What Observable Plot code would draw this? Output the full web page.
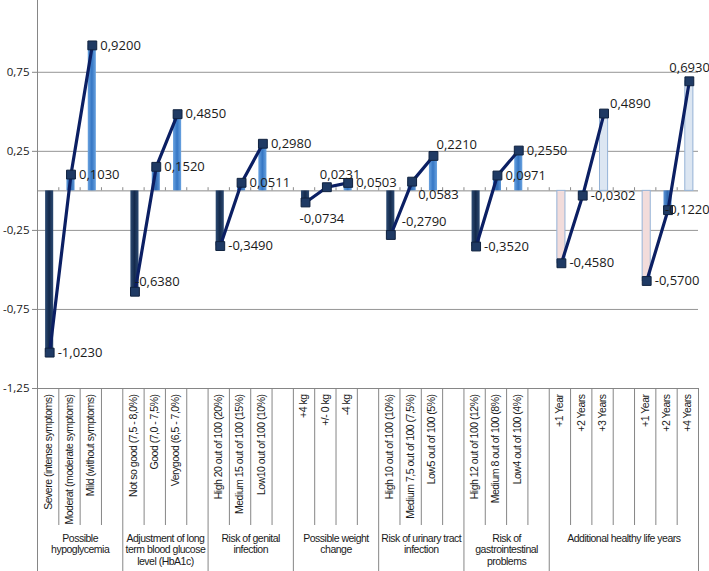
<!DOCTYPE html>
<html><head><meta charset="utf-8">
<script src="https://cdn.jsdelivr.net/npm/d3@7"></script>
<script src="https://cdn.jsdelivr.net/npm/@observablehq/plot@0.6"></script>
<style>
body{margin:0;background:#fff}
#chart svg{display:block}
g[aria-label="x-axis tick label"] text{letter-spacing:-0.5px}
</style>
</head><body><div id="chart"></div>
<script>
// ---- data ----
const groupLabels = [
  "Possible\nhypoglycemia",
  "Adjustment of long\nterm blood glucose\nlevel (HbA1c)",
  "Risk of genital\ninfection",
  "Possible weight\nchange",
  "Risk of urinary tract\ninfection",
  "Risk of\ngastrointestinal\nproblems",
  "Additional healthy life years"
];
// each sub-series of three levels and the group it belongs to
const subGroupOf = [0, 1, 2, 3, 4, 5, 6, 6];
const levelLabels = [
  ["Severe (intense symptoms)", "Moderat (moderate symptoms)", "Mild (without symptoms)"],
  ["Not so good (7,5 - 8,0%)", "Good (7,0 - 7,5%)", "Verygood (6,5 - 7,0%)"],
  ["High 20 out of 100 (20%)", "Medium 15 out of 100 (15%)", "Low10 out of 100 (10%)"],
  ["+4 kg", "+/- 0 kg", "-4 kg"],
  ["High 10 out of 100 (10%)", "Medium 7,5 out of 100 (7,5%)", "Low5 out of 100 (5%)"],
  ["High 12 out of 100 (12%)", "Medium 8 out of 100 (8%)", "Low4 out of 100 (4%)"],
  ["+1 Year", "+2 Years", "+3 Years"],
  ["+1 Year", "+2 Years", "+4 Years"]
];
const levelValues = [
  [-1.0230, 0.1030, 0.9200],
  [-0.6380, 0.1520, 0.4850],
  [-0.3490, 0.0511, 0.2980],
  [-0.0734, 0.0231, 0.0503],
  [-0.2790, 0.0583, 0.2210],
  [-0.3520, 0.0971, 0.2550],
  [-0.4580, -0.0302, 0.4890],
  [-0.5700, -0.1220, 0.6930]
];
const yTickValues = [-1.25, -0.75, -0.25, 0.25, 0.75];
const yDomain = [-1.25, 1.204];

// ---- layout of category slots (three levels, then an empty slot) ----
const points = [];
const groupStart = [], groupEnd = [];
let slot = 0;
levelValues.forEach((vals, k) => {
  const g = subGroupOf[k];
  if (groupStart[g] === undefined) groupStart[g] = slot;
  vals.forEach((v, j) => {
    points.push({x: slot + 0.5, value: v, label: levelLabels[k][j], sub: k, group: g, pos: j, idx: points.length});
    slot++;
  });
  groupEnd[g] = slot;
  if (k < levelValues.length - 1 && subGroupOf[k + 1] === g) slot++;
  else if (k < levelValues.length - 1) { slot++; groupEnd[g] = slot; }
});
const nSlots = slot;
const groupBounds = Array.from(new Set([...groupStart, ...groupEnd]));
const itemBounds = d3.range(0, nSlots + 1).filter(b => !groupBounds.includes(b));
const groupCenters = groupLabels.map((_, g) => (groupStart[g] + groupEnd[g]) / 2);

const fmt = v => v.toFixed(4).replace(".", ",");
const fmtTick = v => v.toFixed(2).replace(".", ",");

// ---- styles ----
function barFill(d) {
  if (d.group === 6) return d.pos === 0 ? "#f2dcdb" : d.pos === 1 ? "url(#gMid)" : "#dce6f2";
  return d.pos === 0 ? "url(#gDark)" : d.pos === 1 ? "url(#gMid)" : "url(#gLight)";
}
function barStroke(d) {
  return d.group === 6 && d.pos !== 1 ? "#95b3d7" : "none";
}
// label nudges (dx, dy) for points where Excel moved the label
const nudge = {3: [0, -10], 9: [-6, 16], 10: [-7, -12], 12: [11, -13], 13: [6, 13], 14: [3, -11], 20: [6, -10], 22: [-3, 0], 23: [-20, -13]};
const nudgeKeys = Array.from(new Set(points.map(p => String(nudge[p.idx] || [8, 0]))));

const labelFont = "'Liberation Sans', Arial, sans-serif";
const shift = 1.5;

function defs() {
  const ns = "http://www.w3.org/2000/svg";
  const d = document.createElementNS(ns, "defs");
  const mk = (id, edge, mid) => {
    const lg = document.createElementNS(ns, "linearGradient");
    lg.setAttribute("id", id);
    lg.setAttribute("x1", "0"); lg.setAttribute("x2", "1"); lg.setAttribute("y1", "0"); lg.setAttribute("y2", "0");
    [[0, edge], [0.5, mid], [1, edge]].forEach(([o, c]) => {
      const s = document.createElementNS(ns, "stop");
      s.setAttribute("offset", o); s.setAttribute("stop-color", c);
      lg.appendChild(s);
    });
    d.appendChild(lg);
  };
  mk("gDark", "#2c4a72", "#142a4c");
  mk("gMid", "#5b95d6", "#2f68b0");
  mk("gLight", "#6aa3e0", "#3576c4");
  return d;
}

const chart = Plot.plot({
  width: 709,
  height: 571,
  marginLeft: 37,
  marginRight: 11,
  marginTop: 0,
  marginBottom: 183,
  x: {type: "linear", domain: [0, nSlots]},
  y: {domain: yDomain},
  style: {fontFamily: "'Open Sans', sans-serif", background: "#fff", overflow: "visible"},
  marks: [
    defs,
    // gridlines
    Plot.ruleY(yTickValues.filter(v => v > yDomain[0]), {stroke: "#959595", strokeWidth: 1}),
    Plot.ruleY([0], {stroke: "#8a8a8a", strokeWidth: 1}),
    Plot.ruleX(d3.range(1, nSlots), {x: d => d, y1: 0, y2: 0.02, stroke: "#8a8a8a"}),
    // bars
    Plot.rectY(points, {
      x1: d => d.x - 0.19, x2: d => d.x + 0.19, y1: 0, y2: "value",
      fill: barFill, stroke: barStroke, strokeWidth: 1, dx: shift
    }),
    // lines and markers
    Plot.line(points, {x: "x", y: "value", z: "sub", stroke: "#0b1f63", strokeWidth: 3.2, dx: shift}),
    Plot.dot(points, {x: "x", y: "value", symbol: "square", r: 5, fill: "#1f3a64", stroke: "#10223f", strokeWidth: 1, dx: shift}),
    // data labels
    ...nudgeKeys.map(key => {
      const [ndx, ndy] = key.split(",").map(Number);
      return Plot.text(points.filter(p => String(nudge[p.idx] || [8, 0]) === key), {
        x: "x", y: "value", text: d => fmt(d.value),
        dx: ndx + shift, dy: ndy, textAnchor: "start",
        fontSize: 13, fill: "#1a1a1a"
      });
    }),
    // y axis
    Plot.ruleX([0], {stroke: "#868686"}),
    Plot.axisY({ticks: yTickValues, tickFormat: fmtTick, tickSize: 5, tickPadding: 3, fontSize: 11.5, fill: "#1a1a1a", stroke: "#868686", label: null}),
    // category table
    Plot.ruleY([yDomain[0]], {stroke: "#868686"}),
    Plot.axisX({ticks: itemBounds, tickFormat: () => "", tickSize: 137, stroke: "#868686", label: null}),
    Plot.axisX({ticks: groupBounds, tickFormat: () => "", tickSize: 183, stroke: "#868686", label: null}),
    Plot.axisX({
      ticks: points.map(p => p.x), tickFormat: x => points.find(p => p.x === x).label,
      tickSize: 0, tickPadding: 6, rotate: -90, textAnchor: "end", lineAnchor: "middle",
      fontSize: 10.5, fontFamily: labelFont, fill: "#1a1a1a", label: null
    }),
    Plot.axisX({
      ticks: groupCenters, tickFormat: x => groupLabels[groupCenters.indexOf(x)],
      tickSize: 0, tickPadding: 145, lineHeight: 1.11, textAnchor: "middle",
      fontSize: 10.5, fontFamily: labelFont, fill: "#1a1a1a", label: null
    })
  ]
});
document.getElementById("chart").appendChild(chart);
</script>
</body></html>
